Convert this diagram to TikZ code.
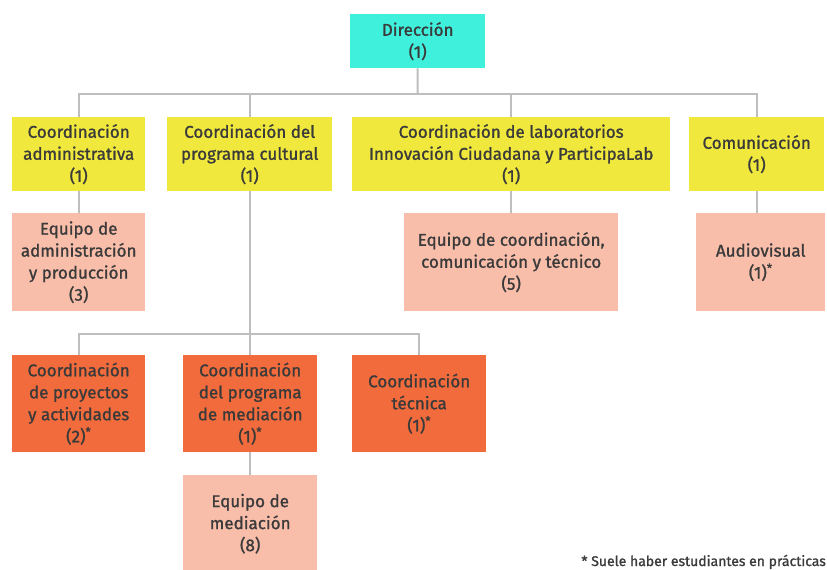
\documentclass[tikz,border=0pt]{standalone}
\usepackage{fontspec}
\setmainfont{Fira Sans}[FakeBold=1.2]
\definecolor{cyanbox}{HTML}{3FF0DC}
\definecolor{yellowbox}{HTML}{F0E83C}
\definecolor{salmonbox}{HTML}{F9BEAA}
\definecolor{orangebox}{HTML}{F26B3C}
\definecolor{linegray}{HTML}{BEBEBE}
\definecolor{txt}{HTML}{3A3A3A}
\begin{document}
\begin{tikzpicture}[x=1pt,y=-1pt,
  box/.style={anchor=north west,inner sep=0pt,align=center,text=txt,
    font=\fontsize{17}{22}\selectfont},
  cyanb/.style={box,fill=cyanbox},
  yellowb/.style={box,fill=yellowbox},
  salmonb/.style={box,fill=salmonbox},
  orangeb/.style={box,fill=orangebox},
  conn/.style={draw=linegray,line width=2pt}]
\useasboundingbox (0,0) rectangle (827,570);
\fill[white] (0,0) rectangle (827,570);
% level 1
\node[cyanb,minimum width=135pt,minimum height=54pt] (dir) at (350,14) {Dirección\\(1)};
% level 2
\node[yellowb,minimum width=133pt,minimum height=74pt] (adm) at (12,117) {Coordinación\\administrativa\\(1)};
\node[yellowb,minimum width=165pt,minimum height=74pt] (cul) at (167,117) {Coordinación del\\programa cultural\\(1)};
\node[yellowb,minimum width=318pt,minimum height=74pt] (lab) at (352,117) {Coordinación de laboratorios\\Innovación Ciudadana y ParticipaLab\\(1)};
\node[yellowb,minimum width=135pt,minimum height=74pt] (com) at (689,117) {Comunicación\\(1)};
% level 3
\node[salmonb,minimum width=133pt,minimum height=98pt] (eadm) at (12,213) {Equipo de\\administración\\y producción\\(3)};
\node[salmonb,minimum width=214pt,minimum height=98pt] (elab) at (404,213) {Equipo de coordinación,\\comunicación y técnico\\(5)};
\node[salmonb,minimum width=129pt,minimum height=98pt] (av) at (696,213) {Audiovisual\\(1)\textsuperscript{*}};
% level 4
\node[orangeb,minimum width=133pt,minimum height=97pt] (pro) at (12,355) {Coordinación\\de proyectos\\y actividades\\(2)\textsuperscript{*}};
\node[orangeb,minimum width=134pt,minimum height=97pt] (med) at (183,355) {Coordinación\\del programa\\de mediación\\(1)\textsuperscript{*}};
\node[orangeb,minimum width=134pt,minimum height=97pt] (tec) at (352,355) {Coordinación\\técnica\\(1)\textsuperscript{*}};
% level 5
\node[salmonb,minimum width=134pt,minimum height=97pt] (emed) at (183,475) {Equipo de\\mediación\\(8)};
% footnote
\node[anchor=base east,inner sep=0pt,text=txt,font=\fontsize{14}{16}\selectfont] (foot) at (826,566) {* Suele haber estudiantes en prácticas};
% connectors
\coordinate (busa) at (417.5,94);
\coordinate (busb) at (250,334);
\draw[conn] (dir.south) -- (busa);
\draw[conn] (adm.north) |- (busa) -| (com.north);
\draw[conn] (cul.north) -- (cul.north |- busa);
\draw[conn] (lab.north) -- (lab.north |- busa);
\draw[conn] (adm.south) -- (eadm.north);
\draw[conn] (lab.south) -- (lab.south |- elab.north);
\draw[conn] (com.south) -- (com.south |- av.north);
\draw[conn] (cul.south) -- (cul.south |- med.north);
\draw[conn] (pro.north) |- (busb) -| (tec.north);
\draw[conn] (med.south) -- (emed.north);
\end{tikzpicture}
\end{document}
